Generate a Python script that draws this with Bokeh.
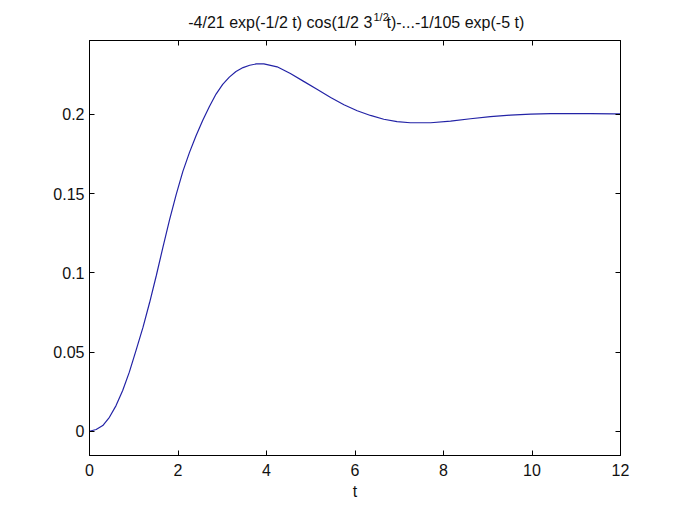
from bokeh.plotting import figure
from bokeh.models import Range1d, LinearAxis, FixedTicker
from bokeh.layouts import column
from bokeh.core.properties import value
from bokeh.embed import file_html
from bokeh.resources import INLINE

# values
t_vals = [0, 0.15, 0.30, 0.45, 0.60, 0.75, 0.90, 1.05, 1.21, 1.36, 1.51, 1.66,
          1.81, 1.96, 2.11, 2.26, 2.41, 2.56, 2.71, 2.86, 3.01, 3.16, 3.31, 3.47,
          3.62, 3.77, 3.94, 4.24, 4.54, 4.84, 5.15, 5.45, 5.75, 6.05, 6.35, 6.65,
          6.95, 7.25, 7.71, 8.16, 8.61, 9.06, 9.51, 9.97, 10.42, 10.87, 11.32,
          11.85, 12.0]
y_vals = [0, 0.0011, 0.0036, 0.0088, 0.0162, 0.0257, 0.0373, 0.0509, 0.0657,
          0.0814, 0.0983, 0.1162, 0.1335, 0.1495, 0.1640, 0.1760, 0.1866, 0.1962,
          0.2050, 0.2128, 0.2189, 0.2235, 0.2270, 0.2295, 0.2310, 0.2318, 0.2319,
          0.2300, 0.2258, 0.2208, 0.2157, 0.2106, 0.2061, 0.2023, 0.1993, 0.1969,
          0.1954, 0.1947, 0.1947, 0.1957, 0.1972, 0.1986, 0.1995, 0.2001, 0.2004,
          0.2005, 0.2005, 0.2003, 0.2003]

x_ticks = [0, 2, 4, 6, 8, 10, 12]
y_ticks = [0, 0.05, 0.1, 0.15, 0.2]
y_tick_labels = ["0", "0.05", "0.1", "0.15", "0.2"]

title_parts = ["-4/21 exp(-1/2 t) cos(1/2 3", "1/2", "t)-...-1/105 exp(-5 t)"]
x_label = "t"

FONT = "Liberation Sans"
FS = "16px"
TXT = "#111111"

W = 675

# ---- title strip ----
tf = figure(width=W, height=32, output_backend="svg", toolbar_location=None,
            x_range=Range1d(0, W), y_range=Range1d(0, 32),
            x_axis_location=None, y_axis_location=None, min_border=0)
tf.grid.visible = False
tf.outline_line_color = None
tf.text(x=[359.5], y=[10], text=[title_parts[0]], text_align="right",
        text_baseline="alphabetic", text_font=value(FONT), text_font_size=FS,
        text_color=TXT)
tf.text(x=[361], y=[15.5], text=[title_parts[1]], text_align="left",
        text_baseline="alphabetic", text_font=value(FONT), text_font_size="11px",
        text_color=TXT)
tf.text(x=[377.5], y=[10], text=[title_parts[2]], text_align="left",
        text_baseline="alphabetic", text_font=value(FONT), text_font_size=FS,
        text_color=TXT)

# ---- main plot ----
p = figure(width=W, height=472, output_backend="svg", toolbar_location=None,
           x_range=Range1d(0, 12), y_range=Range1d(-0.0153, 0.2466),
           min_border_left=89, min_border_right=55, min_border_top=8,
           min_border_bottom=49)
p.grid.visible = False
p.outline_line_color = "black"
p.outline_line_width = 1

p.line(t_vals, y_vals, line_color="#2323a6", line_width=1.2)

def style(ax, ticks, show_labels):
    ax.axis_line_color = "black"
    ax.major_tick_line_color = "black"
    ax.major_tick_in = 5
    ax.major_tick_out = 0
    ax.minor_tick_line_color = None
    ax.major_label_text_font = FONT
    ax.major_label_text_color = TXT
    if show_labels:
        ax.major_label_text_font_size = FS
    else:
        ax.major_label_text_font_size = "0px"
        ax.major_label_standoff = 0
        ax.major_label_overrides = {v: "" for v in ticks}

xa = p.xaxis[0]
ya = p.yaxis[0]
xa.ticker = FixedTicker(ticks=x_ticks)
ya.ticker = FixedTicker(ticks=y_ticks)
ya.major_label_overrides = {v: s for v, s in zip(y_ticks, y_tick_labels)}
style(xa, x_ticks, True)
style(ya, y_ticks, True)
xa.major_label_standoff = 8
ya.major_label_standoff = 5
xa.axis_label = x_label
xa.axis_label_text_font = FONT
xa.axis_label_text_font_size = FS
xa.axis_label_text_font_style = "normal"
xa.axis_label_text_color = TXT
xa.axis_label_standoff = 4

top = LinearAxis(ticker=FixedTicker(ticks=x_ticks))
style(top, x_ticks, False)
p.add_layout(top, "above")
right = LinearAxis(ticker=FixedTicker(ticks=y_ticks))
style(right, y_ticks, False)
p.add_layout(right, "right")

layout = column(tf, p, spacing=0)
open("out.html", "w").write(file_html(layout, INLINE))
